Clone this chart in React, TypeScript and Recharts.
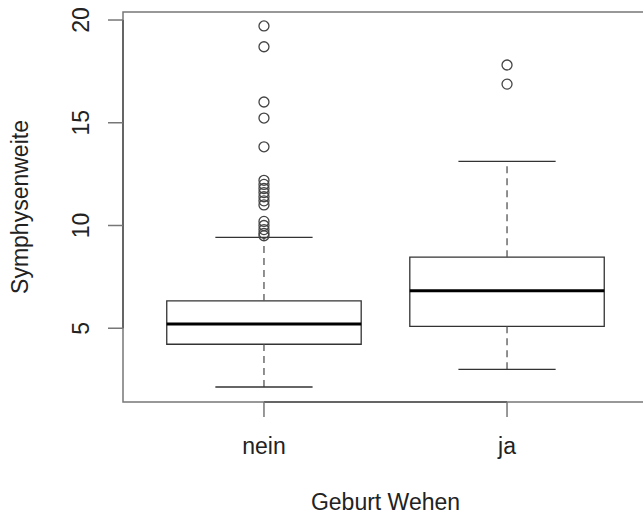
import { ComposedChart, XAxis, YAxis, Scatter, ReferenceArea, ReferenceLine } from "recharts"

const groups = ["nein", "ja"]
const positions = [1, 2]
const lowerWhisker = [2.14, 3.0]
const q1 = [4.22, 5.09]
const median = [5.21, 6.83]
const q3 = [6.33, 8.46]
const upperWhisker = [9.42, 13.12]
const outliersNein = [19.71, 18.7, 16.01, 15.23, 13.83, 12.2, 12.0, 11.8, 11.6, 11.4, 11.2, 11.0, 10.2, 10.0, 9.8, 9.62, 9.5]
const outliersJa = [17.81, 16.88]
const yTicks = [5, 10, 15, 20]

const xDomain: [number, number] = [0.42, 2.58]
const yDomain: [number, number] = [1.41, 20.39]
const boxHalf = 0.4
const capHalf = 0.2

const FONT = "'Liberation Sans', Arial, Helvetica, sans-serif"
const TEXT = "#222"
const LINE = "#333"
const FRAME = "#777"

const outlierData = [
  ...outliersNein.map((y) => ({ x: positions[0], y })),
  ...outliersJa.map((y) => ({ x: positions[1], y })),
]

function YTick({ x, y, payload }: any) {
  return (
    <text x={x} y={y} transform={`rotate(-90, ${x}, ${y})`} textAnchor="middle" fontSize={23} fontFamily={FONT} fill={TEXT}>
      {payload.value}
    </text>
  )
}

function XTick({ x, y, payload }: any) {
  const idx = positions.indexOf(payload.value)
  return (
    <text x={x} y={y} textAnchor="middle" fontSize={23} fontFamily={FONT} fill={TEXT}>
      {groups[idx]}
    </text>
  )
}

function Circle({ cx, cy }: any) {
  return <circle cx={cx} cy={cy} r={5} fill="none" stroke="#444" strokeWidth={1.3} />
}

export default function App() {
  return (
    <div style={{ position: "fixed", top: 0, left: 0, width: 643, height: 519, overflow: "hidden", background: "#fff" }}>
      <ComposedChart width={660} height={519} margin={{ top: 12, right: 12, left: 63, bottom: 77 }}>
        <XAxis
          type="number"
          dataKey="x"
          domain={xDomain}
          ticks={positions}
          tick={<XTick />}
          tickSize={15}
          tickMargin={37}
          tickLine={{ stroke: FRAME, strokeWidth: 1.5 }}
          axisLine={false}
          height={40}
          allowDataOverflow
          label={{
            content: (p: any) => (
              <text x={p.viewBox.x + p.viewBox.width / 2} y={p.viewBox.y + 108} textAnchor="middle" fontSize={23} fontFamily={FONT} fill={TEXT}>
                Geburt Wehen
              </text>
            ),
          }}
        />
        <YAxis
          type="number"
          domain={yDomain}
          ticks={yTicks}
          tick={<YTick />}
          tickSize={15}
          tickMargin={19}
          tickLine={{ stroke: FRAME, strokeWidth: 1.5 }}
          axisLine={false}
          width={60}
          allowDataOverflow
          label={{
            content: (p: any) => {
              const cx = p.viewBox.x - 35
              const cy = p.viewBox.y + p.viewBox.height / 2
              return (
                <text x={cx} y={cy} transform={`rotate(-90, ${cx}, ${cy})`} textAnchor="middle" fontSize={23} fontFamily={FONT} fill={TEXT}>
                  Symphysenweite
                </text>
              )
            },
          }}
        />
        <ReferenceArea x1={xDomain[0]} x2={xDomain[1]} y1={yDomain[0]} y2={yDomain[1]} fill="none" stroke={FRAME} strokeWidth={1.5} />
        <ReferenceLine segment={[{ x: positions[0], y: yDomain[0] }, { x: positions[1], y: yDomain[0] }]} stroke="#555" strokeWidth={1.5} />
        <ReferenceLine segment={[{ x: xDomain[0], y: yTicks[0] }, { x: xDomain[0], y: yTicks[3] }]} stroke="#555" strokeWidth={1.5} />
        {positions.map((pos, i) => [
          <ReferenceLine key={`wu${i}`} segment={[{ x: pos, y: q3[i] }, { x: pos, y: upperWhisker[i] }]} stroke="#555" strokeWidth={1.3} strokeDasharray="7 5" />,
          <ReferenceLine key={`wl${i}`} segment={[{ x: pos, y: lowerWhisker[i] }, { x: pos, y: q1[i] }]} stroke="#555" strokeWidth={1.3} strokeDasharray="7 5" />,
          <ReferenceLine key={`cu${i}`} segment={[{ x: pos - capHalf, y: upperWhisker[i] }, { x: pos + capHalf, y: upperWhisker[i] }]} stroke={LINE} strokeWidth={1.3} />,
          <ReferenceLine key={`cl${i}`} segment={[{ x: pos - capHalf, y: lowerWhisker[i] }, { x: pos + capHalf, y: lowerWhisker[i] }]} stroke={LINE} strokeWidth={1.3} />,
          <ReferenceArea key={`b${i}`} x1={pos - boxHalf} x2={pos + boxHalf} y1={q1[i]} y2={q3[i]} fill="#fff" fillOpacity={1} stroke={LINE} strokeWidth={1.3} />,
          <ReferenceLine key={`m${i}`} segment={[{ x: pos - boxHalf, y: median[i] }, { x: pos + boxHalf, y: median[i] }]} stroke="#000" strokeWidth={3} />,
        ])}
        <Scatter data={outlierData} dataKey="y" shape={<Circle />} isAnimationActive={false} />
      </ComposedChart>
    </div>
  )
}
